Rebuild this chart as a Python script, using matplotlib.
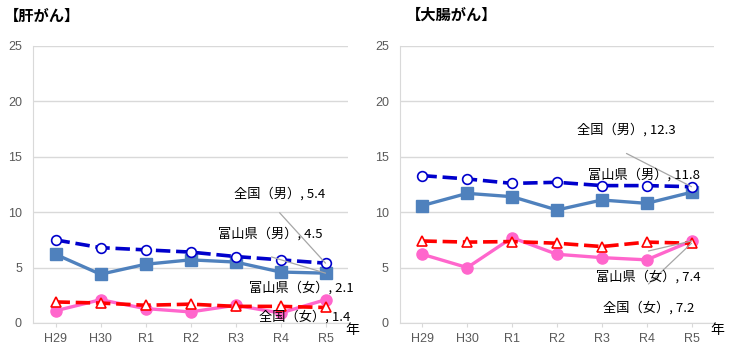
import matplotlib.pyplot as plt

plt.rcParams['font.family'] = ['Noto Sans CJK JP', 'DejaVu Sans']

years = ['H29', 'H30', 'R1', 'R2', 'R3', 'R4', 'R5']

# 肝がん
liver_zenkoku_m = [7.5, 6.8, 6.6, 6.4, 6.0, 5.7, 5.4]
liver_toyama_m = [6.2, 4.4, 5.3, 5.7, 5.5, 4.6, 4.5]
liver_zenkoku_f = [1.9, 1.8, 1.6, 1.7, 1.5, 1.5, 1.4]
liver_toyama_f = [1.1, 2.1, 1.3, 1.0, 1.6, 0.9, 2.1]

# 大腸がん
colon_zenkoku_m = [13.3, 13.0, 12.6, 12.7, 12.4, 12.4, 12.3]
colon_toyama_m = [10.6, 11.7, 11.4, 10.2, 11.1, 10.8, 11.8]
colon_zenkoku_f = [7.4, 7.3, 7.35, 7.2, 6.9, 7.3, 7.2]
colon_toyama_f = [6.2, 5.0, 7.7, 6.2, 5.9, 5.7, 7.4]

names = ['全国（男）', '富山県（男）', '全国（女）', '富山県（女）']

fig = plt.figure(figsize=(7.4, 3.56), dpi=100)
ax1 = fig.add_axes([0.0446, 0.0927, 0.4257, 0.7781])
ax2 = fig.add_axes([0.5405, 0.0927, 0.4243, 0.7781])


def draw(ax, zm, tm, zf, tf):
    x = range(len(years))
    ax.plot(x, zm, color='#0000CC', lw=2.6, ls=(0, (4, 1.6)), marker='o', ms=7,
            mfc='white', mec='#0000CC', mew=1.2, zorder=4)
    ax.plot(x, tm, color='#4F81BD', lw=2.4, marker='s', ms=8, zorder=3)
    ax.plot(x, zf, color='#FF0000', lw=2.6, ls=(0, (4, 1.6)), marker='^', ms=7,
            mfc='white', mec='#FF0000', mew=1.2, zorder=4)
    ax.plot(x, tf, color='#FF66CC', lw=2.4, marker='o', ms=8, zorder=3)
    ax.set_xlim(-0.5, len(years) - 0.5)
    ax.set_ylim(0, 25)
    ax.set_yticks(range(0, 26, 5))
    ax.set_xticks(list(x))
    ax.set_xticklabels(years)
    ax.yaxis.grid(True, color='#D9D9D9', lw=1)
    ax.set_axisbelow(True)
    for s in ['top', 'right']:
        ax.spines[s].set_visible(False)
    for s in ['left', 'bottom']:
        ax.spines[s].set_color('#D9D9D9')
    ax.tick_params(axis='y', length=0, labelsize=9, labelcolor='#595959', pad=8)
    ax.tick_params(axis='x', length=3, color='#D9D9D9', labelsize=9,
                   labelcolor='#595959', pad=4)
    for lab in ax.get_xticklabels() + ax.get_yticklabels():
        lab.set_family('Liberation Sans')
    ax.text(1.012, -0.025, '年', transform=ax.transAxes, ha='center',
            va='center', fontsize=10)


def label(ax, i, v, tx, ty, lx=None, ly=None):
    last = len(years) - 1
    ax.text(tx, ty, f'{names[i]}, {v[last]}', ha='center', va='center',
            fontsize=9.5, zorder=6)
    if lx is not None:
        ax.annotate('', xy=(last, v[last]), xytext=(lx, ly),
                    arrowprops=dict(arrowstyle='-', color='#A6A6A6', lw=0.9,
                                    shrinkA=0, shrinkB=0), zorder=5)


draw(ax1, liver_zenkoku_m, liver_toyama_m, liver_zenkoku_f, liver_toyama_f)
draw(ax2, colon_zenkoku_m, colon_toyama_m, colon_zenkoku_f, colon_toyama_f)

label(ax1, 0, liver_zenkoku_m, 4.98, 11.7, 4.98, 9.95)
label(ax1, 1, liver_toyama_m, 4.78, 8.03, 4.8, 5.96)
label(ax1, 3, liver_toyama_f, 5.46, 3.16)
label(ax1, 2, liver_zenkoku_f, 5.53, 0.54)

label(ax2, 0, colon_zenkoku_m, 4.55, 17.4, 4.55, 15.3)
label(ax2, 1, colon_toyama_m, 4.93, 13.36)
label(ax2, 3, colon_toyama_f, 5.04, 4.15, 5.04, 6.5)
label(ax2, 2, colon_zenkoku_f, 5.04, 1.35, 5.04, 3.52)

fig.text(0.005, 0.955, '【肝がん】', fontsize=11, fontweight='bold', va='center')
fig.text(0.548, 0.958, '【大腸がん】', fontsize=11, fontweight='bold', va='center')

fig.savefig('out.png', dpi=100)
